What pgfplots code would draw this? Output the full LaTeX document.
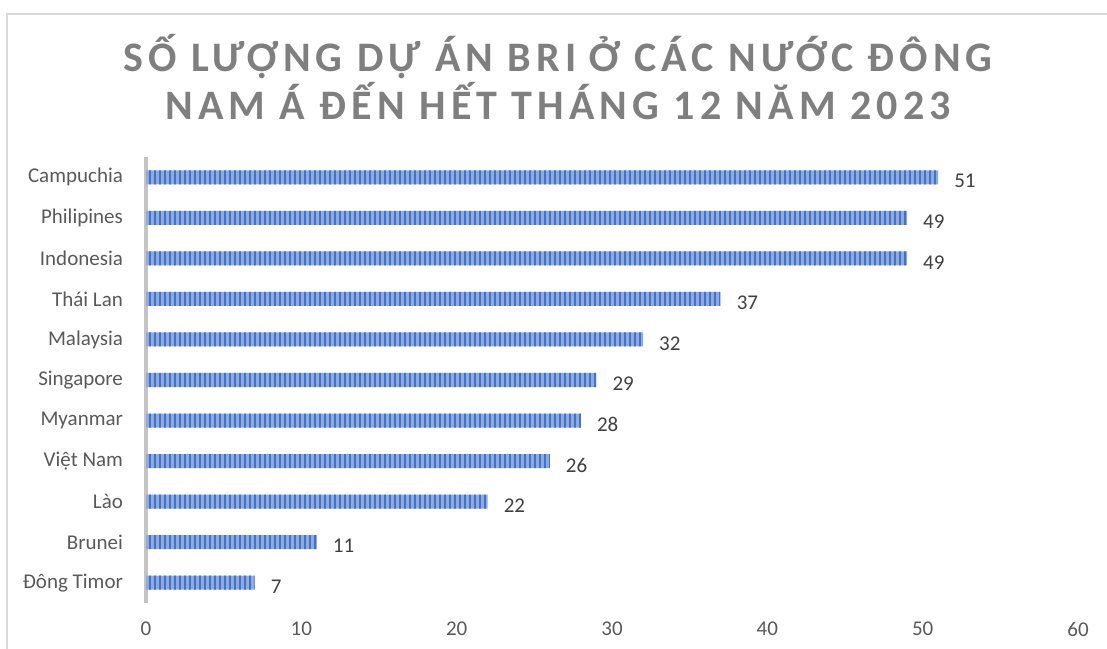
\documentclass[border=0pt]{standalone}
\usepackage{fontspec}
\setmainfont{Carlito}
\usepackage{pgfplots}
\pgfplotsset{compat=1.18}
\usetikzlibrary{patterns.meta}
\definecolor{barlight}{HTML}{8FAADE}
\definecolor{bardark}{HTML}{4472C4}
\definecolor{labelgrey}{HTML}{595959}
\definecolor{titlegrey}{HTML}{7F7F7F}
\definecolor{framegrey}{HTML}{D9D9D9}
\definecolor{axisgrey}{HTML}{C4C4C4}
\begin{document}
\begin{tikzpicture}
\useasboundingbox (-73pt,-22.5pt) rectangle (480.5pt,301.5pt);
\draw[framegrey, line width=1pt] (-69.25pt,-30pt) -- (-69.25pt,294.5pt) -- (490pt,294.5pt);
\begin{axis}[
    xbar,
    scale only axis,
    width=466pt,
    height=223pt,
    bar width=7pt,
    xmin=0, xmax=60,
    ymin=-0.5, ymax=10.5,
    xtick={0,10,...,60},
    ytick={0,...,10},
    yticklabels={Đông Timor, Brunei, Lào, Việt Nam, Myanmar, Singapore, Malaysia, Thái Lan, Indonesia, Philipines, Campuchia},
    axis x line=bottom,
    axis y line=left,
    axis line style={-},
    x axis line style={draw=none},
    y axis line style={draw=axisgrey, line width=1.5pt},
    major tick length=0pt,
    tick label style={font=\fontsize{10.5}{12}\selectfont, text=labelgrey},
    xticklabel style={yshift=-6pt},
    yticklabel style={xshift=-8pt},
    /pgf/number format/assume math mode=true,
    nodes near coords,
    nodes near coords style={font=\fontsize{10.5}{12}\selectfont, text=black!75, xshift=4.5pt, yshift=-2pt},
]
\addplot[draw=none, fill=barlight, postaction={pattern={Lines[angle=90, distance=2.5pt, line width=1.4pt]}, pattern color=bardark}]
    coordinates {(7,0) (11,1) (22,2) (26,3) (28,4) (29,5) (32,6) (37,7) (49,8) (49,9) (51,10)};
\end{axis}
\node[font=\fontsize{21}{24}\selectfont\bfseries\addfontfeatures{LetterSpace=12}, text=titlegrey, align=center]
    at (206pt,263pt) {SỐ LƯỢNG DỰ ÁN BRI Ở CÁC NƯỚC ĐÔNG\\NAM Á ĐẾN HẾT THÁNG 12 NĂM 2023};
\end{tikzpicture}
\end{document}
